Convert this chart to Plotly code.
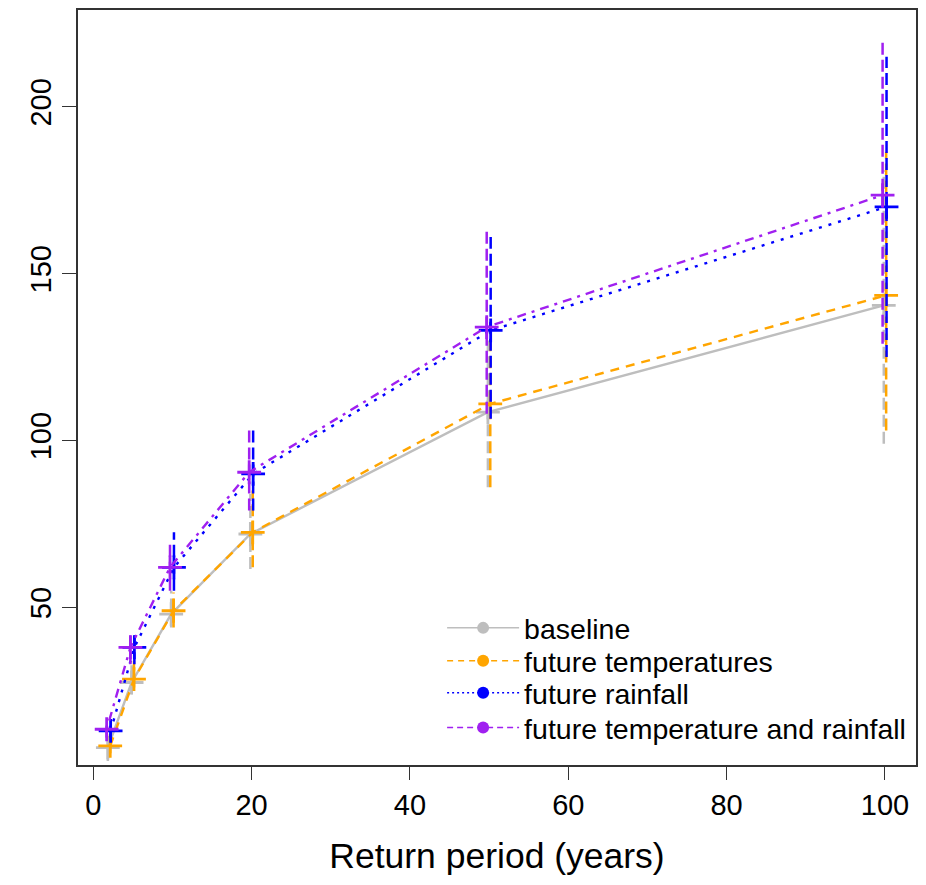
import plotly.graph_objects as go

# ---- data ----
return_periods = [2, 5, 10, 20, 50, 100]

baseline = [8, 27.5, 48, 72, 108.5, 140.5]
baseline_lo = [4, 24, 44, 61.5, 86, 99]
baseline_hi = [11, 34, 55, 84, 130, 181]

future_temp = [8.5, 28.5, 49, 72.5, 111, 143.5]
future_temp_lo = [6.3, 26, 44, 62, 86, 103]
future_temp_hi = [11, 34, 54.5, 85, 136, 186.5]

future_rain = [13, 38, 62, 90, 133, 170]
future_rain_lo = [11, 33, 55, 79, 106.5, 125]
future_rain_hi = [15.5, 42.5, 72.5, 103, 161, 215]

future_both = [13.5, 38, 62, 90.5, 134, 173.5]
future_both_lo = [11, 33, 55, 79, 108, 129]
future_both_hi = [15.7, 42, 70, 104.5, 163.5, 220]

series_names = ["baseline", "future temperatures", "future rainfall",
                "future temperature and rainfall"]
x_ticks = [0, 20, 40, 60, 80, 100]
y_ticks = [50, 100, 150, 200]

# ---- styles ----
colors = ["#BEBEBE", "#FFA500", "#0000FF", "#A020F0"]
dashes = ["solid", "9px,7px", "3px,7px", "3px,6px,9px,6px"]
dodge = [-0.15, 0.15, 0.2, -0.3]
FONT = "Liberation Sans, Arial, sans-serif"

series = [
    (baseline, baseline_lo, baseline_hi),
    (future_temp, future_temp_lo, future_temp_hi),
    (future_rain, future_rain_lo, future_rain_hi),
    (future_both, future_both_lo, future_both_hi),
]

fig = go.Figure()

for i, (vals, lo, hi) in enumerate(series):
    xs = [x + dodge[i] for x in return_periods]
    # whiskers (dashed vertical segments)
    wx, wy = [], []
    for x, a, b in zip(xs, lo, hi):
        wx += [x, x, None]
        wy += [a, b, None]
    fig.add_trace(go.Scatter(
        x=wx, y=wy, mode="lines", showlegend=False, hoverinfo="skip",
        line=dict(color=colors[i], width=2.5, dash="12px,5px")))
    # main line with + markers
    fig.add_trace(go.Scatter(
        x=xs, y=vals, mode="lines+markers", showlegend=False,
        line=dict(color=colors[i], width=2.4, dash=dashes[i]),
        marker=dict(symbol="cross-thin", size=17,
                    line=dict(color=colors[i], width=2.8))))

legend_rows_y = [0.181, 0.1374, 0.0951, 0.0489]
legend_keys = ["legend", "legend2", "legend3", "legend4"]
for i, name in enumerate(series_names):
    fig.add_trace(go.Scatter(
        x=[None], y=[None], mode="lines+markers", name=name,
        legend=legend_keys[i], showlegend=True,
        line=dict(color=colors[i], width=1.5,
                  dash=["solid", "6px,5px", "2px,3px", "6px,4px"][i]),
        marker=dict(symbol="circle", size=12, color=colors[i])))

legend_common = dict(x=0.4345, xanchor="left", yanchor="middle",
                     bgcolor="rgba(0,0,0,0)", borderwidth=0,
                     font=dict(family=FONT, size=28.5, color="black"),
                     itemwidth=72)
layout_legends = {}
for key, yy in zip(legend_keys, legend_rows_y):
    layout_legends[key] = dict(legend_common, y=yy)

fig.update_layout(
    width=926, height=885,
    margin=dict(l=78, r=8, t=8, b=120),
    paper_bgcolor="white", plot_bgcolor="white",
    font=dict(family=FONT, size=29, color="black"),
    showlegend=True,
    **layout_legends,
)

fig.update_xaxes(
    range=[-1.92, 103.92], tickvals=x_ticks, ticks="outside", ticklen=13,
    tickwidth=1.2, tickcolor="#333", showgrid=False, zeroline=False,
    showline=True, linecolor="#333", linewidth=1.5, mirror=True,
    tickfont=dict(size=29),
    title=dict(text="Return period (years)", font=dict(size=35.5), standoff=24),
)
fig.update_yaxes(
    range=[2.79, 228.98], tickvals=y_ticks, ticks="outside", ticklen=14,
    tickwidth=1.2, tickcolor="#333", showgrid=False, zeroline=False,
    showline=True, linecolor="#333", linewidth=1.5, mirror=True,
    tickangle=-90, tickfont=dict(size=29),
)

fig.write_html("out.html")
